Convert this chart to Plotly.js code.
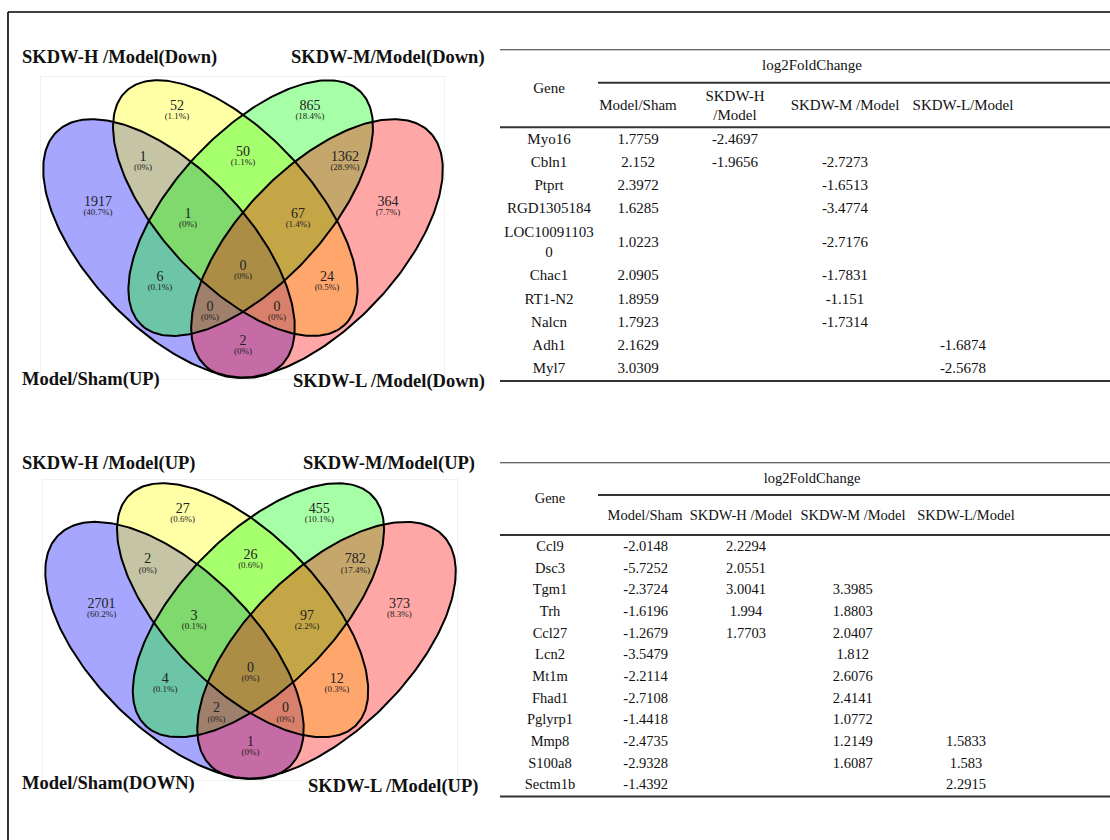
<!DOCTYPE html>
<html>
<head>
<meta charset="utf-8">
<script src="https://cdn.plot.ly/plotly-3.0.1.min.js"></script>
<style>
  html, body { margin: 0; padding: 0; background: #ffffff; }
  #chart { width: 1110px; height: 840px; }
</style>
</head>
<body>
<div id="chart"></div>
<script>
// ---------------- Venn data ----------------
// Region order: A = Model/Sham, B = SKDW-H, C = SKDW-M, D = SKDW-L
const regionKeys = ['A', 'B', 'C', 'D', 'AB', 'BC', 'CD', 'AC', 'BD', 'AD', 'ABC', 'BCD', 'ACD', 'ABD', 'ABCD'];

const downSetNames = ['Model/Sham(UP)', 'SKDW-H /Model(Down)', 'SKDW-M/Model(Down)', 'SKDW-L /Model(Down)'];
const downCounts   = [1917, 52, 865, 364, 1, 50, 1362, 6, 24, 2, 1, 67, 0, 0, 0];

const upSetNames = ['Model/Sham(DOWN)', 'SKDW-H /Model(UP)', 'SKDW-M/Model(UP)', 'SKDW-L /Model(UP)'];
const upCounts   = [2701, 27, 455, 373, 2, 26, 782, 4, 12, 1, 3, 97, 2, 0, 0];

// ---------------- Table data ----------------
const spanTitle = 'log2FoldChange';
const geneTitle = 'Gene';

const genesDown     = ['Myo16', 'Cbln1', 'Ptprt', 'RGD1305184', 'LOC100911030', 'Chac1', 'RT1-N2', 'Nalcn', 'Adh1', 'Myl7'];
const modelShamDown = [1.7759, 2.152, 2.3972, 1.6285, 1.0223, 2.0905, 1.8959, 1.7923, 2.1629, 3.0309];
const skdwHDown     = [-2.4697, -1.9656, null, null, null, null, null, null, null, null];
const skdwMDown     = [null, -2.7273, -1.6513, -3.4774, -2.7176, -1.7831, -1.151, -1.7314, null, null];
const skdwLDown     = [null, null, null, null, null, null, null, null, -1.6874, -2.5678];
const headersDown   = ['Model/Sham', 'SKDW-H<br>/Model', 'SKDW-M /Model', 'SKDW-L/Model'];

const genesUp     = ['Ccl9', 'Dsc3', 'Tgm1', 'Trh', 'Ccl27', 'Lcn2', 'Mt1m', 'Fhad1', 'Pglyrp1', 'Mmp8', 'S100a8', 'Sectm1b'];
const modelShamUp = [-2.0148, -5.7252, -2.3724, -1.6196, -1.2679, -3.5479, -2.2114, -2.7108, -1.4418, -2.4735, -2.9328, -1.4392];
const skdwHUp     = [2.2294, 2.0551, 3.0041, 1.994, 1.7703, null, null, null, null, null, null, null];
const skdwMUp     = [null, null, 3.3985, 1.8803, 2.0407, 1.812, 2.6076, 2.4141, 1.0772, 1.2149, 1.6087, null];
const skdwLUp     = [null, null, null, null, null, null, null, null, null, 1.5833, 1.583, 2.2915];
const headersUp   = ['Model/Sham', 'SKDW-H /Model', 'SKDW-M /Model', 'SKDW-L/Model'];

// ---------------- Page geometry ----------------
const W = 1110, H = 840;
const SERIF = 'Liberation Serif, Times New Roman, serif';

// Ellipse outlines in panel units (405 x 304 box, y pointing down)
const ellipseGeom = [
  { cx: 129,   cy: 172.5, a: 162, b: 79.5, rot: 46.3,  rgb: '0,0,255'   },
  { cx: 195.3, cy: 132.1, a: 160, b: 75.5, rot: 47,    rgb: '255,255,0' },
  { cx: 210.7, cy: 132.1, a: 160, b: 75.5, rot: 133,   rgb: '0,255,0'   },
  { cx: 277,   cy: 172.5, a: 162, b: 79.5, rot: 133.7, rgb: '255,0,0'   }
];
const fillAlpha = 0.35;

// Label anchor for each region, in panel units
const regionLabelPos = {
  A: [58, 127], B: [137, 31], C: [270, 31], D: [348, 127],
  AB: [103, 82], BC: [203, 77], CD: [305, 82],
  AC: [120, 202], BD: [287, 202], AD: [203, 266],
  ABC: [148, 139], BCD: [258, 139], ACD: [170, 232], ABD: [237, 232],
  ABCD: [203, 191]
};

const vennPanels = [
  {
    counts: downCounts, names: downSetNames, xa: 'x', ya: 'y', axisKey: '',
    box: { x0: 40, x1: 445, y0: 76, y1: 380 },
    namePos: [
      { x: 20,  y: 380, anchor: 'left'  },
      { x: 20,  y: 58,  anchor: 'left'  },
      { x: 487, y: 58,  anchor: 'right' },
      { x: 487, y: 382, anchor: 'right' }
    ]
  },
  {
    counts: upCounts, names: upSetNames, xa: 'x2', ya: 'y2', axisKey: '2',
    box: { x0: 42, x1: 458, y0: 479, y1: 781 },
    namePos: [
      { x: 20,  y: 783, anchor: 'left'  },
      { x: 20,  y: 463, anchor: 'left'  },
      { x: 477, y: 463, anchor: 'right' },
      { x: 480, y: 786, anchor: 'right' }
    ]
  }
];

const tables = [
  {
    xa: 'x3', ya: 'y3', axisKey: '3', left: 500, top: 49.3, height: 340, font: 15,
    genes: genesDown, cols: [modelShamDown, skdwHDown, skdwMDown, skdwLDown], headers: headersDown,
    geneX: 49, colX: [138, 235, 345, 463], headX: [138, 235, 345, 463],
    spanX: 312, spanY: 17.4, midRuleY: 33.4, geneY: 39.7, subY: 57.4, headRuleY: 78,
    rowTop: 79, rowH: 23.15, lineExtra: 21.1, wrapAt: 11
  },
  {
    xa: 'x4', ya: 'y4', axisKey: '4', left: 500, top: 462.3, height: 345, font: 14.5,
    genes: genesUp, cols: [modelShamUp, skdwHUp, skdwMUp, skdwLUp], headers: headersUp,
    geneX: 50, colX: [145.7, 246, 352.7, 466], headX: [145, 241, 353, 466],
    spanX: 312, spanY: 16.7, midRuleY: 32.7, geneY: 36.7, subY: 53.7, headRuleY: 72.7,
    rowTop: 74.3, rowH: 21.65, lineExtra: 20, wrapAt: 11
  }
];

// ---------------- Helpers ----------------
function ellipsePoints(g, n) {
  const xs = [], ys = [];
  const r = g.rot * Math.PI / 180, cr = Math.cos(r), sr = Math.sin(r);
  for (let i = 0; i <= n; i++) {
    const t = 2 * Math.PI * i / n;
    const u = g.a * Math.cos(t), v = g.b * Math.sin(t);
    xs.push(g.cx + u * cr - v * sr);
    ys.push(g.cy + u * sr + v * cr);
  }
  return { xs, ys };
}

// Percent with one decimal, trailing ".0" dropped (so 0.02% prints as 0%)
function pctLabel(v, total) {
  const p = Math.round(v / total * 1000) / 10;
  return '(' + String(p) + '%)';
}

function wrapName(s, n) {
  if (s.length <= n) return s;
  const parts = [];
  for (let i = 0; i < s.length; i += n) parts.push(s.slice(i, i + n));
  return parts.join('<br>');
}

const hidden = { visible: false, fixedrange: true, showgrid: false, zeroline: false };

const traces = [];
const shapes = [];
const annotations = [];
const layout = {
  width: W, height: H,
  margin: { l: 0, r: 0, t: 0, b: 0 },
  paper_bgcolor: '#ffffff', plot_bgcolor: 'rgba(0,0,0,0)',
  showlegend: false, hovermode: false
};

// ---------------- Venn panels ----------------
vennPanels.forEach(p => {
  const b = p.box;
  layout['xaxis' + p.axisKey] = Object.assign({}, hidden, {
    domain: [b.x0 / W, b.x1 / W], range: [0, 405], anchor: p.ya
  });
  layout['yaxis' + p.axisKey] = Object.assign({}, hidden, {
    domain: [1 - b.y1 / H, 1 - b.y0 / H], range: [304, 0], anchor: p.xa
  });

  // faint frame around the diagram
  shapes.push({
    type: 'rect', xref: p.xa, yref: p.ya, x0: 0, x1: 405, y0: 0, y1: 304,
    line: { color: '#e4e4e4', width: 1 }, layer: 'below'
  });

  const outlines = ellipseGeom.map(g => ellipsePoints(g, 260));
  // fills first so every outline stays on top
  outlines.forEach((pts, i) => {
    traces.push({
      type: 'scatter', mode: 'lines', x: pts.xs, y: pts.ys,
      xaxis: p.xa, yaxis: p.ya, fill: 'toself',
      fillcolor: 'rgba(' + ellipseGeom[i].rgb + ',' + fillAlpha + ')',
      line: { width: 0, color: 'rgba(0,0,0,0)' }, hoverinfo: 'skip'
    });
  });
  outlines.forEach(pts => {
    traces.push({
      type: 'scatter', mode: 'lines', x: pts.xs, y: pts.ys,
      xaxis: p.xa, yaxis: p.ya, line: { width: 2, color: '#000000' }, hoverinfo: 'skip'
    });
  });

  const total = p.counts.reduce((s, v) => s + v, 0);
  const lx = regionKeys.map(k => regionLabelPos[k][0]);
  const ly = regionKeys.map(k => regionLabelPos[k][1]);
  traces.push({
    type: 'scatter', mode: 'text', x: lx, y: ly.map(v => v - 0.5), xaxis: p.xa, yaxis: p.ya,
    text: p.counts.map(String), textposition: 'middle center', cliponaxis: false,
    textfont: { family: SERIF, size: 14, color: '#222222' }, hoverinfo: 'skip'
  });
  traces.push({
    type: 'scatter', mode: 'text', x: lx, y: ly.map(v => v + 10), xaxis: p.xa, yaxis: p.ya,
    text: p.counts.map(v => pctLabel(v, total)), textposition: 'middle center', cliponaxis: false,
    textfont: { family: SERIF, size: 9, color: '#222222' }, hoverinfo: 'skip'
  });

  p.names.forEach((nm, i) => {
    const pos = p.namePos[i];
    annotations.push({
      xref: 'paper', yref: 'paper', x: pos.x / W, y: 1 - pos.y / H,
      xanchor: pos.anchor, yanchor: 'middle', showarrow: false,
      text: '<b>' + nm + '</b>',
      font: { family: SERIF, size: 18.5, color: '#111111' }
    });
  });
});

// ---------------- Tables ----------------
tables.forEach(t => {
  layout['xaxis' + t.axisKey] = Object.assign({}, hidden, {
    domain: [t.left / W, 1], range: [0, W - t.left], anchor: t.ya
  });
  layout['yaxis' + t.axisKey] = Object.assign({}, hidden, {
    domain: [1 - (t.top + t.height) / H, 1 - t.top / H], range: [t.height, 0], anchor: t.xa
  });

  const names = t.genes.map(g => wrapName(g, t.wrapAt));
  const centers = [];
  let y = t.rowTop;
  names.forEach(n => {
    const lines = n.split('<br>').length;
    const h = t.rowH + (lines - 1) * t.lineExtra;
    centers.push(y + h / 2);
    y += h;
  });
  const bottomRule = y;

  const xs = [], ys = [], txt = [];
  names.forEach((n, i) => { xs.push(t.geneX); ys.push(centers[i]); txt.push(n); });
  t.cols.forEach((col, j) => {
    col.forEach((v, i) => {
      if (v !== null) { xs.push(t.colX[j]); ys.push(centers[i]); txt.push(String(v)); }
    });
  });
  xs.push(t.spanX); ys.push(t.spanY); txt.push(spanTitle);
  xs.push(t.geneX); ys.push(t.geneY); txt.push(geneTitle);
  t.headers.forEach((h, j) => { xs.push(t.headX[j]); ys.push(t.subY); txt.push(h); });

  traces.push({
    type: 'scatter', mode: 'text', x: xs, y: ys, text: txt,
    xaxis: t.xa, yaxis: t.ya, textposition: 'middle center', cliponaxis: false,
    textfont: { family: SERIF, size: t.font, color: '#111111' }, hoverinfo: 'skip'
  });

  const right = W - t.left;
  const rule = (x0, x1, yy) => shapes.push({
    type: 'line', xref: t.xa, yref: t.ya, x0: x0, x1: x1, y0: yy, y1: yy,
    line: { color: '#333333', width: 2 }
  });
  rule(0, right, 0);
  rule(98, right, t.midRuleY);
  rule(0, right, t.headRuleY);
  rule(0, right, bottomRule);
});

// outer frame (left and top edges)
shapes.push({
  type: 'line', xref: 'paper', yref: 'paper',
  x0: 8 / W, x1: 8 / W, y0: 1 - 12 / H, y1: -0.02, line: { color: '#000000', width: 1.6 }
});
shapes.push({
  type: 'line', xref: 'paper', yref: 'paper',
  x0: 8 / W, x1: 1.02, y0: 1 - 12 / H, y1: 1 - 12 / H, line: { color: '#000000', width: 1.6 }
});

layout.shapes = shapes;
layout.annotations = annotations;

Plotly.newPlot('chart', traces, layout, { staticPlot: true, displayModeBar: false });
</script>
</body>
</html>
